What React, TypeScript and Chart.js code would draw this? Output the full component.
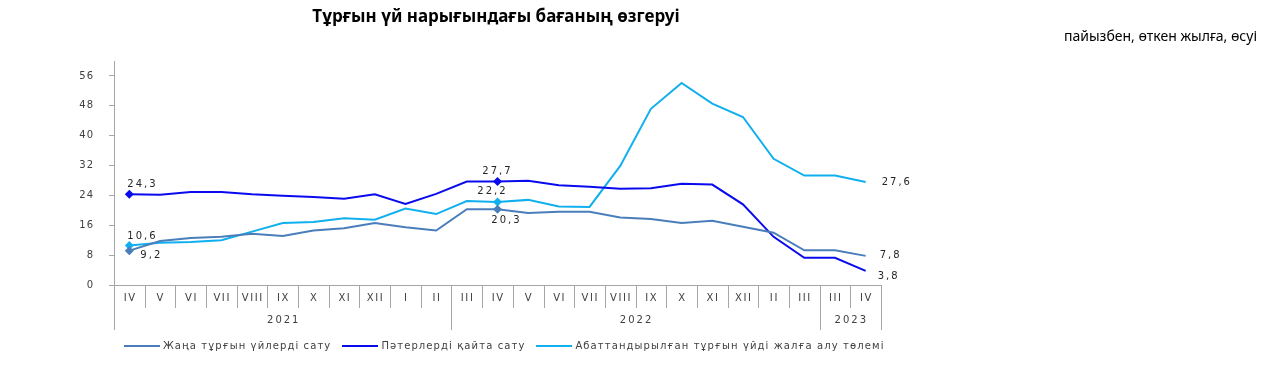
import React, { useEffect, useRef } from 'react';
import { Chart, registerables } from 'chart.js';

Chart.register(...registerables);

const months = ['IV', 'V', 'VI', 'VII', 'VIII', 'IX', 'X', 'XI', 'XII', 'I', 'II', 'III', 'IV', 'V', 'VI', 'VII', 'VIII', 'IX', 'X', 'XI', 'XII', 'II', 'III', 'III', 'IV'];
const years = ['2021', '2022', '2023'];
const yearSpans = [11, 12, 2];

const newHousing = [9.2, 11.8, 12.6, 12.9, 13.7, 13.1, 14.6, 15.2, 16.6, 15.5, 14.6, 20.3, 20.3, 19.3, 19.6, 19.6, 18.1, 17.7, 16.6, 17.2, 15.6, 14.0, 9.3, 9.3, 7.8];
const resale = [24.3, 24.2, 24.9, 24.9, 24.3, 23.9, 23.6, 23.1, 24.3, 21.7, 24.4, 27.7, 27.7, 27.9, 26.7, 26.3, 25.8, 25.9, 27.1, 26.9, 21.6, 12.9, 7.3, 7.3, 3.8];
const rent = [10.6, 11.3, 11.5, 12.0, 14.3, 16.6, 16.9, 17.9, 17.5, 20.5, 19.0, 22.5, 22.2, 22.8, 21.0, 20.9, 31.9, 47.2, 54.1, 48.6, 45.0, 33.8, 29.3, 29.3, 27.6];

const seriesNames = ['Жаңа тұрғын үйлерді сату', 'Пәтерлерді қайта сату', 'Абаттандырылған тұрғын үйді жалға алу төлемі'];
const seriesColors = ['#4a7ebb', '#0a0aee', '#10b0ee'];
const labeledIdx = [0, 12, 24];
const markerIdx = [0, 12];

// label placement per series for labeledIdx: [dx, dy, align]
const labelPlacement: [number, number, CanvasTextAlign][][] = [
  [[11, 5, 'left'], [9, 11, 'center'], [14, 0, 'left']],
  [[-2, -10, 'left'], [0, -10, 'center'], [12, 6, 'left']],
  [[-2, -9, 'left'], [-5, -11, 'center'], [16, 0, 'left']],
];

const fmt = (v: number) => v.toFixed(1).replace('.', ',');

const GRAY = '#a6a6a6';
const TXT = '#404040';

const customPlugin = {
  id: 'custom',
  beforeDraw(chart: any) {
    (chart.ctx as any).letterSpacing = '1px';
  },
  afterDraw(chart: any) {
    const ctx = chart.ctx;
    const xs = chart.scales.x;
    const area = chart.chartArea;
    const bottom = area.bottom;
    const half = (xs.getPixelForValue(1) - xs.getPixelForValue(0)) / 2;
    ctx.save();
    ctx.strokeStyle = GRAY;
    ctx.lineWidth = 1;
    const groupEnds = new Set<number>();
    let acc = 0;
    groupEnds.add(0);
    yearSpans.forEach((s) => { acc += s; groupEnds.add(acc); });
    for (let i = 0; i <= months.length; i++) {
      const x = Math.round(xs.getPixelForValue(i) - half) + 0.5;
      const len = groupEnds.has(i) ? 45 : 23;
      ctx.beginPath();
      ctx.moveTo(x, bottom);
      ctx.lineTo(x, bottom + len);
      ctx.stroke();
    }
    ctx.fillStyle = TXT;
    ctx.font = '10px "DejaVu Sans"';
    ctx.textBaseline = 'middle';
    ctx.textAlign = 'center';
    (ctx as any).letterSpacing = '1.6px';
    months.forEach((m, i) => {
      ctx.fillText(m, xs.getPixelForValue(i) + 0.8, bottom + 13);
    });
    (ctx as any).letterSpacing = '2px';
    let start = 0;
    years.forEach((y, gi) => {
      const end = start + yearSpans[gi] - 1;
      const cx = (xs.getPixelForValue(start) + xs.getPixelForValue(end)) / 2;
      ctx.fillText(y, cx + 1, bottom + 35);
      start += yearSpans[gi];
    });
    ctx.fillStyle = '#262626';
    chart.data.datasets.forEach((ds: any, di: number) => {
      const meta = chart.getDatasetMeta(di);
      labeledIdx.forEach((idx, k) => {
        const pt = meta.data[idx];
        const [dx, dy, align] = labelPlacement[di][k];
        ctx.textAlign = align;
        ctx.fillText(fmt(ds.data[idx]), pt.x + dx, pt.y + dy);
      });
    });
    ctx.restore();
  },
};

export default function App() {
  const ref = useRef<HTMLCanvasElement>(null);
  useEffect(() => {
    if (!ref.current) return;
    const seriesData = [newHousing, resale, rent];
    const chart = new Chart(ref.current, {
      type: 'line',
      data: {
        labels: months,
        datasets: seriesData.map((d, i) => ({
          label: seriesNames[i],
          data: d,
          borderColor: seriesColors[i],
          backgroundColor: seriesColors[i],
          borderWidth: 2,
          tension: 0,
          pointStyle: 'rectRot',
          pointRadius: d.map((_, j) => (markerIdx.includes(j) ? 4.5 : 0)),
          pointBorderWidth: 0,
          fill: false,
        })),
      },
      options: {
        animation: false,
        responsive: false,
        layout: { padding: { top: 61, left: 0, right: 392, bottom: 42 } },
        plugins: { legend: { display: false }, tooltip: { enabled: false }, title: { display: false } },
        scales: {
          x: {
            type: 'category',
            offset: true,
            grid: { display: false, offset: true },
            ticks: { display: false },
            border: { display: true, color: GRAY, width: 1 },
            afterFit: (s: any) => { s.height = 50; },
          },
          y: {
            min: 0,
            max: 60,
            ticks: { stepSize: 8, color: TXT, font: { family: 'DejaVu Sans', size: 10 }, padding: 15 },
            afterBuildTicks: (s: any) => { s.ticks = s.ticks.filter((t: any) => t.value !== 60); },
            grid: { display: true, drawOnChartArea: false, drawTicks: true, tickLength: 5, color: GRAY },
            border: { display: true, color: GRAY, width: 1 },
            afterFit: (s: any) => { s.width = 114; },
          },
        },
      },
      plugins: [customPlugin],
    });
    return () => chart.destroy();
  }, []);

  return (
    <div style={{ position: 'fixed', left: 0, top: 0, width: 1273, height: 377, background: '#fff' }}>
      <canvas ref={ref} width={1273} height={377} style={{ position: 'absolute', left: 0, top: 0, width: 1273, height: 377 }} />
      <div style={{ position: 'absolute', left: 0, top: 4, width: 992, textAlign: 'center', font: 'bold 17px "Noto Sans"', lineHeight: '24px', color: '#000' }}>
        Тұрғын үй нарығындағы бағаның өзгеруі
      </div>
      <div style={{ position: 'absolute', right: 16, top: 26, font: '14px "Noto Sans"', lineHeight: '20px', color: '#000', whiteSpace: 'nowrap' }}>
        пайызбен, өткен жылға, өсуі
      </div>
      <div style={{ position: 'absolute', left: 124, top: 339, display: 'flex', alignItems: 'center', font: '10px "DejaVu Sans"', letterSpacing: '1.1px', color: TXT, whiteSpace: 'nowrap' }}>
        {seriesNames.map((n, i) => (
          <div key={n} style={{ display: 'flex', alignItems: 'center', marginRight: 11 }}>
            <span style={{ display: 'inline-block', width: 36, height: 2, background: seriesColors[i], marginRight: 3 }} />
            <span style={{ lineHeight: '14px' }}>{n}</span>
          </div>
        ))}
      </div>
    </div>
  );
}
